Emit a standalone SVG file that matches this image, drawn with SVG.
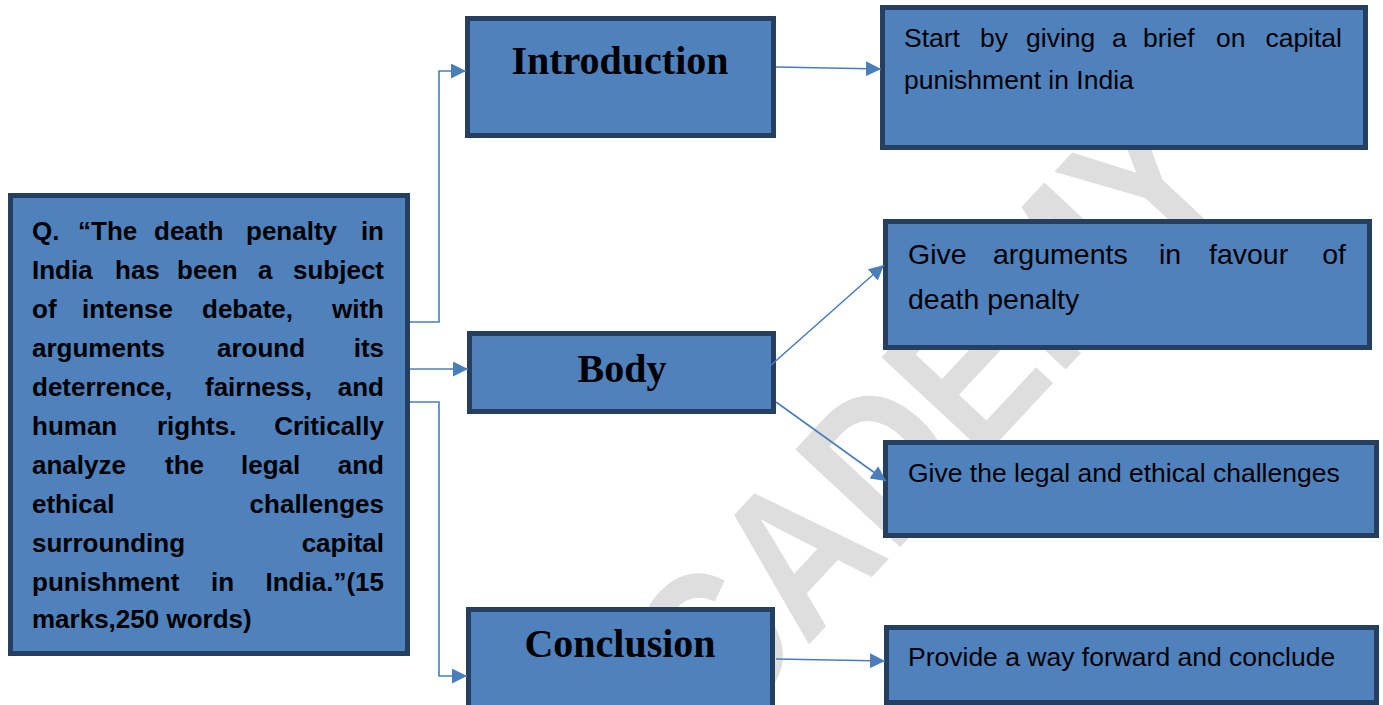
<svg xmlns="http://www.w3.org/2000/svg" width="1383" height="705" viewBox="0 0 1383 705">
  <style>
    .box { fill: #4f81bd; stroke: #243f60; stroke-width: 5; }
    .head { font-family: "Liberation Serif", "Times New Roman", serif; font-weight: bold; font-size: 40px; fill: #000; text-anchor: middle; }
    .q { font-family: "Liberation Sans", Arial, sans-serif; font-weight: bold; font-size: 26px; fill: #000; }
    .note { font-family: "Liberation Sans", Arial, sans-serif; font-size: 26.5px; fill: #000; }
    .big { font-size: 28.5px; }
    .end { text-anchor: end; }
    .wire { fill: none; stroke: #4a7ebb; stroke-width: 1.6; }
    .mark { font-family: "Liberation Sans", Arial, sans-serif; font-weight: bold; font-size: 208px; fill: #dedede; }
  </style>
  <defs>
    <marker id="tri" viewBox="0 0 15 15" refX="15" refY="7.5" markerWidth="15" markerHeight="15" markerUnits="userSpaceOnUse" orient="auto">
      <path d="M0,0 L15,7.5 L0,15 Z" fill="#4a7ebb"/>
    </marker>
  </defs>

  <rect width="1383" height="705" fill="#ffffff"/>

  <!-- background watermark -->
  <text class="mark" transform="translate(720,740) rotate(-47) scale(0.84,1)">CADEMY</text>

  <!-- question -->
  <g id="question">
    <rect class="box" x="10.5" y="195.5" width="397" height="458"/>
    <text class="q" y="240"><tspan x="32">Q.</tspan><tspan x="78">“The</tspan><tspan x="154">death</tspan><tspan x="246">penalty</tspan></text>
    <text class="q end" x="384" y="240">in</text>
    <text class="q" y="279"><tspan x="32">India</tspan><tspan x="115">has</tspan><tspan x="177">been</tspan><tspan x="258">a</tspan></text>
    <text class="q end" x="384" y="279">subject</text>
    <text class="q" y="318"><tspan x="32">of</tspan><tspan x="82">intense</tspan><tspan x="202">debate,</tspan></text>
    <text class="q end" x="384" y="318">with</text>
    <text class="q" y="357"><tspan x="32">arguments</tspan><tspan x="217">around</tspan></text>
    <text class="q end" x="384" y="357">its</text>
    <text class="q" y="396"><tspan x="32">deterrence,</tspan><tspan x="205">fairness,</tspan></text>
    <text class="q end" x="384" y="396">and</text>
    <text class="q" y="435"><tspan x="32">human</tspan><tspan x="157">rights.</tspan></text>
    <text class="q end" x="384" y="435">Critically</text>
    <text class="q" y="474"><tspan x="32">analyze</tspan><tspan x="165">the</tspan><tspan x="241">legal</tspan></text>
    <text class="q end" x="384" y="474">and</text>
    <text class="q" x="32" y="513">ethical</text>
    <text class="q end" x="384" y="513">challenges</text>
    <text class="q" x="32" y="552">surrounding</text>
    <text class="q end" x="384" y="552">capital</text>
    <text class="q" y="591"><tspan x="32">punishment</tspan><tspan x="211">in</tspan></text>
    <text class="q end" x="384" y="591">India.”(15</text>
    <text class="q" x="32" y="628">marks,250 words)</text>
  </g>

  <!-- section headings -->
  <g id="introduction">
    <rect class="box" x="467.5" y="18.5" width="306" height="117"/>
    <text class="head" x="620" y="74">Introduction</text>
  </g>
  <g id="body">
    <rect class="box" x="469.5" y="333.5" width="304" height="78"/>
    <text class="head" x="622" y="382">Body</text>
  </g>
  <g id="conclusion">
    <rect class="box" x="468.5" y="609.5" width="304" height="98"/>
    <text class="head" x="620" y="657">Conclusion</text>
  </g>

  <!-- guidance notes -->
  <g id="intro-note">
    <rect class="box" x="882.5" y="7.5" width="483" height="140"/>
    <text class="note" y="47"><tspan x="904">Start</tspan><tspan x="980">by</tspan><tspan x="1026">giving</tspan><tspan x="1112">a</tspan><tspan x="1143">brief</tspan><tspan x="1216">on</tspan></text>
    <text class="note end" x="1342" y="47">capital</text>
    <text class="note" x="904" y="89">punishment in India</text>
  </g>
  <g id="favour-note">
    <rect class="box" x="885.5" y="221.5" width="484" height="126"/>
    <text class="note big" y="264"><tspan x="908">Give</tspan><tspan x="993">arguments</tspan><tspan x="1159">in</tspan><tspan x="1209">favour</tspan></text>
    <text class="note big end" x="1346" y="264">of</text>
    <text class="note big" x="908" y="309">death penalty</text>
  </g>
  <g id="challenges-note">
    <rect class="box" x="885.5" y="442.5" width="491" height="93"/>
    <text class="note" x="908" y="482">Give the legal and ethical challenges</text>
  </g>
  <g id="conclusion-note">
    <rect class="box" x="886.5" y="627.5" width="490" height="75"/>
    <text class="note" x="908" y="666">Provide a way forward and conclude</text>
  </g>

  <!-- connectors -->
  <g id="connectors">
    <path class="wire" d="M410,322 H439 V71 H466" marker-end="url(#tri)"/>
    <path class="wire" d="M410,369 H468" marker-end="url(#tri)"/>
    <path class="wire" d="M410,402 H439 V676 H467" marker-end="url(#tri)"/>
    <path class="wire" d="M776,67 L881,69" marker-end="url(#tri)"/>
    <path class="wire" d="M770,366 L884,265" marker-end="url(#tri)"/>
    <path class="wire" d="M776,402 L886,481" marker-end="url(#tri)"/>
    <path class="wire" d="M776,659 L885,661" marker-end="url(#tri)"/>
  </g>
</svg>
